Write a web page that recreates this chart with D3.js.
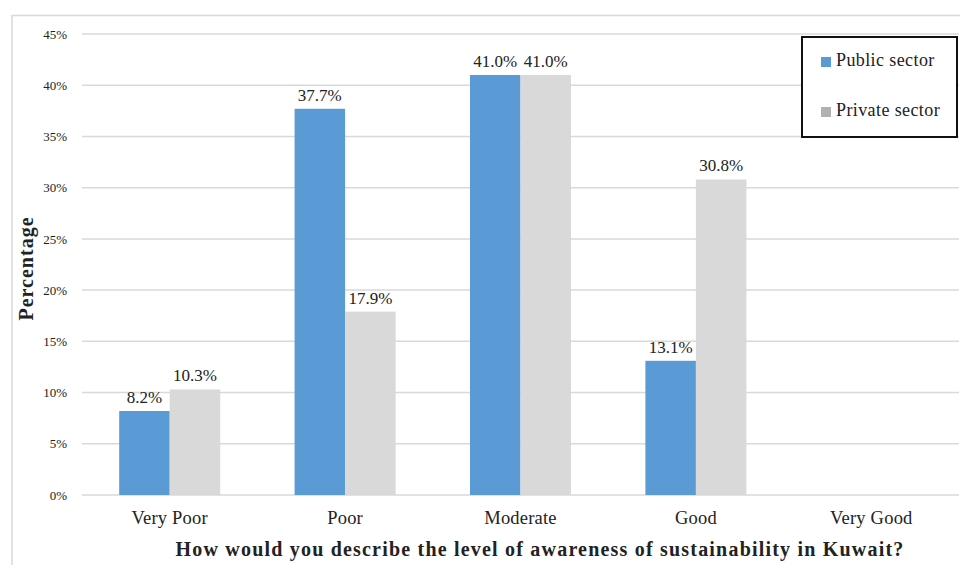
<!DOCTYPE html>
<html>
<head>
<meta charset="utf-8">
<script src="https://cdn.jsdelivr.net/npm/d3@7"></script>
<style>
  html, body { margin: 0; padding: 0; background: #fff; }
  svg { display: block; }
  text { font-family: "Liberation Serif", "DejaVu Serif", serif; fill: #222; }
</style>
</head>
<body>
<svg id="chart" width="960" height="565"></svg>
<script>
// Survey responses: awareness of sustainability in Kuwait, by sector (%)
const categories = ["Very Poor", "Poor", "Moderate", "Good", "Very Good"];
const seriesNames = ["Public sector", "Private sector"];
const publicValues = [8.2, 37.7, 41.0, 13.1, null];
const privateValues = [10.3, 17.9, 41.0, 30.8, null];
const yTicks = [0, 5, 10, 15, 20, 25, 30, 35, 40, 45];

const barColors = ["#5b9bd5", "#d9d9d9"];
const swatchColors = ["#5b9bd5", "#b1b1b1"];
const FONT = '"Liberation Serif", serif';

const svg = d3.select("#chart");
const W = 960, H = 565;
const margin = { top: 34, right: 1, bottom: 70, left: 82 };
const plotW = W - margin.left - margin.right;
const plotH = H - margin.top - margin.bottom;

// Outer chart frame
svg.append("path")
  .attr("d", `M12,${H} L12,15.5 L${W},15.5`)
  .attr("fill", "none")
  .attr("stroke", "#d9d9d9")
  .attr("stroke-width", 1.5);

const g = svg.append("g").attr("transform", `translate(${margin.left},${margin.top})`);

const y = d3.scaleLinear().domain([0, 45]).range([plotH, 0]);
const x0 = d3.scaleBand().domain(categories).range([0, plotW])
  .paddingInner(0.424).paddingOuter(0.212);
const x1 = d3.scaleBand().domain(seriesNames).range([0, x0.bandwidth()]);

// Horizontal gridlines
g.append("g")
  .selectAll("line")
  .data(yTicks)
  .join("line")
  .attr("x1", 0).attr("x2", plotW)
  .attr("y1", d => y(d)).attr("y2", d => y(d))
  .attr("stroke", "#d9d9d9")
  .attr("stroke-width", 1.5);

// Y axis tick labels
const yAxis = d3.axisLeft(y).tickValues(yTicks).tickFormat(d => d + "%").tickSize(0).tickPadding(15);
const yg = g.append("g").call(yAxis);
yg.select(".domain").remove();
yg.selectAll("text")
  .style("font-family", FONT)
  .style("font-size", "13px")
  .attr("fill", "#333");

// X axis category labels
const xAxis = d3.axisBottom(x0).tickSize(0).tickPadding(16);
const xg = g.append("g").attr("transform", `translate(0,${plotH})`).call(xAxis);
xg.select(".domain").remove();
xg.selectAll("text")
  .style("font-family", FONT)
  .style("font-size", "18.5px")
  .style("letter-spacing", "0.2px")
  .attr("fill", "#222");

// Bars
const rows = categories.map((c, i) => ({
  category: c,
  values: [
    { series: seriesNames[0], value: publicValues[i], idx: 0 },
    { series: seriesNames[1], value: privateValues[i], idx: 1 }
  ].filter(d => d.value != null)
}));

const groups = g.append("g").selectAll("g")
  .data(rows)
  .join("g")
  .attr("transform", d => `translate(${x0(d.category)},0)`);

groups.selectAll("rect")
  .data(d => d.values)
  .join("rect")
  .attr("x", d => x1(d.series))
  .attr("width", x1.bandwidth())
  .attr("y", d => y(d.value))
  .attr("height", d => plotH - y(d.value))
  .attr("fill", d => barColors[d.idx]);

// Value labels
groups.selectAll("text.val")
  .data(d => d.values)
  .join("text")
  .attr("class", "val")
  .attr("x", d => x1(d.series) + x1.bandwidth() / 2)
  .attr("y", d => y(d.value) - 8)
  .attr("text-anchor", "middle")
  .style("font-size", "17px")
  .text(d => d.value.toFixed(1) + "%");

// Axis titles
svg.append("text")
  .attr("transform", `translate(33,${margin.top + plotH / 2 + 4}) rotate(-90)`)
  .attr("text-anchor", "middle")
  .style("font-size", "20px")
  .style("font-weight", "bold")
  .style("letter-spacing", "1px")
  .attr("fill", "#111")
  .text("Percentage");

svg.append("text")
  .attr("x", 540)
  .attr("y", 556)
  .attr("text-anchor", "middle")
  .style("font-size", "20px")
  .style("font-weight", "bold")
  .style("letter-spacing", "1.2px")
  .attr("fill", "#111")
  .text("How would you describe the level of awareness of sustainability in Kuwait?");

// Legend
const legend = svg.append("g");
legend.append("rect")
  .attr("x", 802).attr("y", 37)
  .attr("width", 155).attr("height", 100)
  .attr("fill", "#fff")
  .attr("stroke", "#111")
  .attr("stroke-width", 2);

const items = legend.selectAll("g.item")
  .data(seriesNames)
  .join("g")
  .attr("class", "item")
  .attr("transform", (d, i) => `translate(821,${57 + i * 50})`);

items.append("rect")
  .attr("width", 10).attr("height", 10)
  .attr("fill", (d, i) => swatchColors[i]);

items.append("text")
  .attr("x", 15)
  .attr("y", 8.5)
  .style("font-size", "18px")
  .style("letter-spacing", "0.4px")
  .text(d => d);
</script>
</body>
</html>
